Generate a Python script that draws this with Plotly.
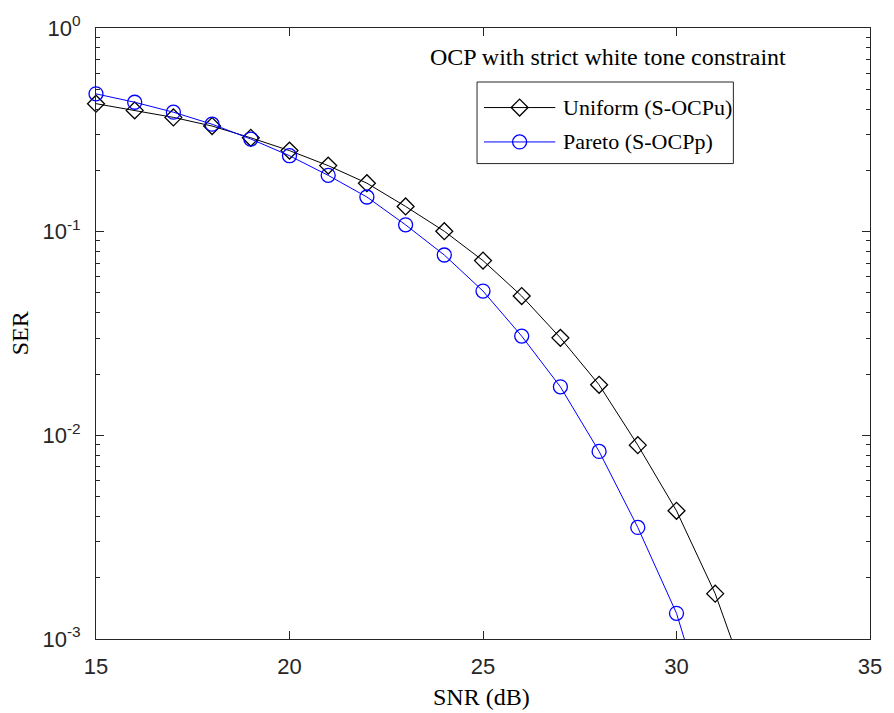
import plotly.graph_objects as go

# ---- data ----
snr_uniform = [15, 16, 17, 18, 19, 20, 21, 22, 23, 24, 25, 26, 27, 28, 29, 30, 31, 32]
ser_uniform = [0.425, 0.394, 0.364, 0.330, 0.289, 0.250, 0.211, 0.173, 0.133, 0.1005,
               0.0721, 0.0483, 0.0301, 0.0177, 0.00895, 0.00426, 0.00167, 0.00049]
snr_pareto = [15, 16, 17, 18, 19, 20, 21, 22, 23, 24, 25, 26, 27, 28, 29, 30, 31]
ser_pareto = [0.475, 0.432, 0.386, 0.337, 0.285, 0.236, 0.189, 0.148, 0.108, 0.0768,
              0.0511, 0.0307, 0.0173, 0.00834, 0.00353, 0.001337, 0.00032]

series_names = ["Uniform (S-OCPu)", "Pareto (S-OCPp)"]
plot_title = "OCP with strict white tone constraint"
x_title = "SNR (dB)"
y_title = "SER"
x_ticks = [15, 20, 25, 30, 35]
y_ticks = [1e-3, 1e-2, 1e-1, 1e0]
y_ticktext = ["10<sup>-3</sup>", "10<sup>-2</sup>", "10<sup>-1</sup>", "10<sup>0</sup>"]

AX = "#262626"
SANS = "Liberation Sans"
SERIF = "Liberation Serif"
YMIN = 1e-3

styles = [
    dict(color="black", symbol="diamond-open", size=13),
    dict(color="blue", symbol="circle-open", size=14),
]

fig = go.Figure()
for (xs, ys), name, st in zip([(snr_uniform, ser_uniform), (snr_pareto, ser_pareto)],
                              series_names, styles):
    fig.add_trace(go.Scatter(x=xs, y=ys, mode="lines", name=name,
                             line=dict(color=st["color"], width=1),
                             showlegend=False, hoverinfo="skip"))
    mx = [x for x, y in zip(xs, ys) if y >= YMIN]
    my = [y for y in ys if y >= YMIN]
    fig.add_trace(go.Scatter(x=mx, y=my, mode="markers", name=name,
                             marker=dict(symbol=st["symbol"], size=st["size"],
                                         color=st["color"],
                                         line=dict(color=st["color"], width=1.3)),
                             cliponaxis=False, showlegend=False))

# ---- manual legend (plot-area fractions) ----
leg_x0, leg_x1, leg_y0, leg_y1 = 0.4923, 0.8235, 0.7781, 0.9116
row_y = [0.8698, 0.8135]
line_x = [0.5013, 0.5934]
mark_x = 0.5473
text_x = 0.6010

fig.add_shape(type="rect", xref="paper", yref="paper",
              x0=leg_x0, x1=leg_x1, y0=leg_y0, y1=leg_y1,
              line=dict(color=AX, width=1), fillcolor="white", layer="below")

for ry, name, st in zip(row_y, series_names, styles):
    fig.add_trace(go.Scatter(x=line_x, y=[ry, ry], mode="lines",
                             line=dict(color=st["color"], width=1),
                             xaxis="x2", yaxis="y2", showlegend=False, hoverinfo="skip"))
    fig.add_trace(go.Scatter(x=[mark_x], y=[ry], mode="markers",
                             marker=dict(symbol=st["symbol"], size=st["size"],
                                         color=st["color"],
                                         line=dict(color=st["color"], width=1.3)),
                             xaxis="x2", yaxis="y2", showlegend=False, hoverinfo="skip",
                             cliponaxis=False))
    fig.add_annotation(x=text_x, y=ry, xref="paper", yref="paper", text=name,
                       showarrow=False, xanchor="left", yanchor="middle",
                       font=dict(family=SERIF, size=22, color="black"))

fig.add_annotation(x=0.6618, y=0.9518, xref="paper", yref="paper", text=plot_title,
                   showarrow=False, xanchor="center", yanchor="middle",
                   font=dict(family=SERIF, size=24, color="black"))

fig.add_annotation(x=0.4987, y=-0.0949, xref="paper", yref="paper", text=x_title,
                   showarrow=False, xanchor="center", yanchor="middle",
                   font=dict(family=SERIF, size=24, color="black"))
fig.add_annotation(x=-0.0985, y=0.5, xref="paper", yref="paper", text=y_title,
                   showarrow=False, xanchor="center", yanchor="middle", textangle=-90,
                   font=dict(family=SERIF, size=24, color="black"))

minor_vals = [m * 10.0 ** e for e in (-3, -2, -1) for m in range(2, 10)]

fig.update_layout(
    width=894, height=713,
    margin=dict(l=96, r=16, t=17, b=74),
    paper_bgcolor="white", plot_bgcolor="white",
    showlegend=False,
    xaxis=dict(range=[15, 35], tickmode="array", tickvals=x_ticks,
               ticks="inside", ticklen=8, tickwidth=1, tickcolor=AX,
               showline=True, linecolor=AX, linewidth=1, mirror="ticks",
               showgrid=False, zeroline=False, ticklabelstandoff=8,
               tickfont=dict(family=SANS, size=22, color=AX)),
    yaxis=dict(type="log", range=[-3, 0], tickmode="array", tickvals=y_ticks,
               ticktext=y_ticktext,
               ticks="inside", ticklen=8, tickwidth=1, tickcolor=AX,
               showline=True, linecolor=AX, linewidth=1, mirror="ticks",
               showgrid=False, zeroline=False, ticklabelstandoff=10,
               tickfont=dict(family=SANS, size=22, color=AX),
               minor=dict(tickmode="array", tickvals=minor_vals, ticks="inside",
                          ticklen=4, tickwidth=1, tickcolor=AX, showgrid=False)),
    xaxis2=dict(overlaying="x", range=[0, 1], visible=False, fixedrange=True),
    yaxis2=dict(overlaying="y", range=[0, 1], visible=False, fixedrange=True),
)

fig.write_html("out.html")
